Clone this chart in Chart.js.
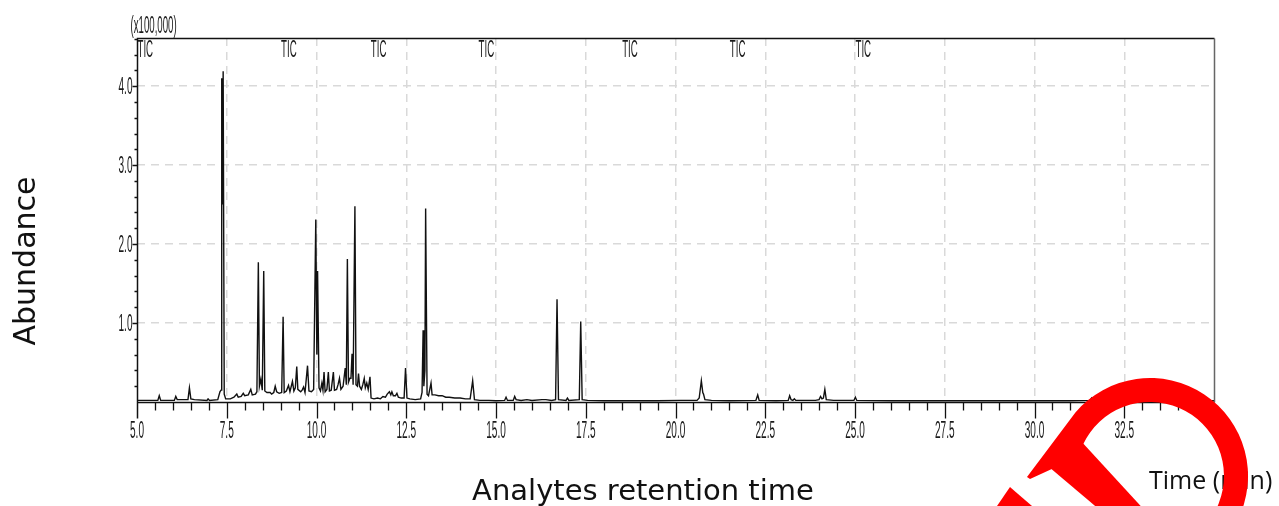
<!DOCTYPE html>
<html>
<head>
<meta charset="utf-8">
<script src="https://cdn.jsdelivr.net/npm/chart.js@4.4.1/dist/chart.umd.min.js"></script>
<style>
  html, body { margin: 0; padding: 0; background: #fff; }
  #wrap { position: relative; width: 1279px; height: 506px; overflow: hidden; }
  #chart { position: absolute; left: 0; top: 0; }
  #mark { position: absolute; left: 0; top: 0; pointer-events: none; }
</style>
</head>
<body>
<div id="wrap">
  <canvas id="chart" width="1279" height="506"></canvas>
  <svg id="mark" width="1279" height="506" viewBox="0 0 1279 506">
    <path fill="#ff0000" d="M1027,477 L1075.4,412.5 A98,98 0 1 1 1116.5,568.1 L1124.7,545.5 A74,74 0 1 0 1082.9,444.7 L1054,468 L1030,479 Z"/>
    <path fill="#ff0000" d="M1080,440 L1160,527 L1120,527 L1049,467 Z"/>
    <path fill="#ff0000" d="M997,506 L1010,487 L1032,506 Z"/>
  </svg>
</div>
<script>
// retention time (min) and abundance (x100,000)
const times = [
  5.00, 5.58, 5.62, 5.66, 6.04, 6.08, 6.12, 6.42, 6.46, 6.50, 6.60, 6.95, 6.98, 7.02,
  7.25, 7.31, 7.34, 7.36, 7.38, 7.40, 7.43, 7.47, 7.60, 7.70, 7.78, 7.82, 7.90, 7.96,
  8.00, 8.10, 8.17, 8.21, 8.30, 8.34, 8.38, 8.41, 8.45, 8.49, 8.53, 8.56, 8.62, 8.71,
  8.75, 8.81, 8.85, 8.89, 8.96, 9.03, 9.07, 9.10, 9.16, 9.22, 9.26, 9.33, 9.37, 9.41,
  9.45, 9.48, 9.56, 9.60, 9.64, 9.68, 9.75, 9.79, 9.86, 9.92, 9.98, 10.01, 10.03, 10.07,
  10.11, 10.15, 10.18, 10.21, 10.24, 10.29, 10.33, 10.36, 10.41, 10.47, 10.50, 10.56,
  10.60, 10.64, 10.68, 10.74, 10.80, 10.83, 10.86, 10.89, 10.93, 10.96, 10.99, 11.02,
  11.07, 11.10, 11.14, 11.17, 11.20, 11.25, 11.29, 11.33, 11.36, 11.40, 11.44, 11.49,
  11.52, 11.60, 11.70, 11.78, 11.85, 11.92, 11.97, 12.03, 12.07, 12.10, 12.14, 12.20,
  12.24, 12.28, 12.36, 12.44, 12.48, 12.52, 12.60, 12.75, 12.90, 12.94, 12.97, 12.99,
  13.02, 13.04, 13.08, 13.12, 13.19, 13.22, 13.30, 13.40, 13.50, 13.60, 13.70, 13.85,
  14.00, 14.15, 14.28, 14.35, 14.40, 14.55, 14.80, 15.00, 15.24, 15.28, 15.32, 15.48,
  15.52, 15.56, 15.70, 15.86, 16.00, 16.28, 16.39, 16.55, 16.66, 16.70, 16.74, 16.95,
  16.99, 17.03, 17.32, 17.36, 17.40, 17.55, 18.00, 18.50, 19.00, 19.50, 20.16, 20.60,
  20.66, 20.72, 20.76, 20.78, 20.82, 21.00, 21.50, 22.24, 22.29, 22.33, 22.80, 23.14,
  23.18, 23.22, 23.27, 23.31, 23.35, 23.90, 24.00, 24.04, 24.08, 24.12, 24.16, 24.20,
  24.40, 24.97, 25.01, 25.05, 26.00, 27.00, 28.00, 29.00, 30.00, 31.00, 31.55, 31.59,
  31.63, 32.50, 33.50, 35.00
];
const abundance = [
  0.02, 0.02, 0.08, 0.02, 0.02, 0.07, 0.03, 0.03, 0.18, 0.04, 0.03, 0.02, 0.04, 0.02,
  0.03, 0.13, 0.15, 4.10, 2.50, 4.19, 0.10, 0.04, 0.04, 0.06, 0.10, 0.06, 0.07, 0.11,
  0.08, 0.09, 0.16, 0.09, 0.10, 0.13, 1.77, 0.20, 0.29, 0.15, 1.66, 0.14, 0.12, 0.12,
  0.10, 0.12, 0.20, 0.13, 0.11, 0.12, 1.08, 0.12, 0.14, 0.21, 0.13, 0.26, 0.14, 0.18,
  0.45, 0.16, 0.13, 0.15, 0.19, 0.12, 0.46, 0.14, 0.13, 0.16, 2.31, 0.60, 1.66, 0.18,
  0.14, 0.24, 0.15, 0.38, 0.13, 0.16, 0.38, 0.14, 0.15, 0.38, 0.15, 0.16,
  0.22, 0.30, 0.16, 0.20, 0.43, 0.22, 1.81, 0.25, 0.30, 0.30, 0.61, 0.22,
  2.48, 0.22, 0.20, 0.36, 0.20, 0.16, 0.22, 0.30, 0.18, 0.24, 0.16, 0.32,
  0.05, 0.04, 0.05, 0.04, 0.07, 0.06, 0.10, 0.13, 0.09, 0.13, 0.08, 0.08,
  0.11, 0.06, 0.05, 0.05, 0.43, 0.05, 0.04, 0.03, 0.04, 0.12, 0.91, 0.20,
  0.40, 2.45, 0.10, 0.08, 0.24, 0.09, 0.09, 0.08, 0.08, 0.06, 0.06, 0.05,
  0.05, 0.04, 0.04, 0.27, 0.03, 0.02, 0.02, 0.015, 0.02, 0.06, 0.02, 0.02,
  0.07, 0.03, 0.02, 0.03, 0.02, 0.03, 0.03, 0.02, 0.03, 1.30, 0.03, 0.02,
  0.05, 0.02, 0.03, 1.02, 0.03, 0.02, 0.015, 0.015, 0.015, 0.015, 0.02, 0.02,
  0.05, 0.27, 0.12, 0.10, 0.03, 0.02, 0.015, 0.02, 0.09, 0.02, 0.015, 0.02,
  0.08, 0.03, 0.02, 0.04, 0.02, 0.02, 0.03, 0.07, 0.04, 0.05, 0.16, 0.03,
  0.02, 0.02, 0.06, 0.02, 0.015, 0.015, 0.015, 0.015, 0.015, 0.015, 0.02, 0.05,
  0.02, 0.015, 0.015, 0.015
];
// segment labels along the top of the trace
const ticTimes = [5.0, 9.0, 11.5, 14.5, 18.5, 21.5, 25.0];
const ticLabel = "TIC";

const narrow = 0.42;

function narrowText(ctx, text, x, y, align) {
  ctx.save();
  ctx.translate(x, y);
  ctx.scale(narrow, 1);
  ctx.textAlign = align;
  ctx.fillText(text, 0, 0);
  ctx.restore();
}

const frame = {
  id: "frame",
  afterDraw(chart) {
    const ctx = chart.ctx;
    const xs = chart.scales.x, ys = chart.scales.y;
    const a = chart.chartArea;
    const l = Math.round(a.left) + 0.5, r = Math.round(a.right) + 0.5;
    const t = Math.round(a.top) + 0.5, b = Math.round(a.bottom) + 0.5;

    ctx.save();
    // box
    ctx.lineWidth = 1.5;
    ctx.strokeStyle = "#111";
    ctx.beginPath();
    ctx.moveTo(l, b + 16); ctx.lineTo(l, t); ctx.lineTo(r, t);
    ctx.moveTo(l, b); ctx.lineTo(r, b);
    ctx.stroke();
    ctx.strokeStyle = "#666";
    ctx.beginPath();
    ctx.moveTo(r, t); ctx.lineTo(r, b);
    ctx.stroke();

    // x ticks every 0.5 min
    ctx.strokeStyle = "#111";
    ctx.lineWidth = 1.3;
    ctx.beginPath();
    for (let i = 1; i < 60; i++) {
      const px = Math.round(xs.getPixelForValue(5 + i * 0.5)) + 0.5;
      ctx.moveTo(px, b);
      ctx.lineTo(px, b + (i % 5 === 0 ? 16 : 8));
    }
    // y ticks every 0.2
    for (let i = 1; i <= 23; i++) {
      const py = Math.round(ys.getPixelForValue(i * 0.2)) + 0.5;
      ctx.moveTo(l, py);
      ctx.lineTo(l - (i % 5 === 0 ? 5 : 3), py);
    }
    ctx.stroke();

    // tick labels
    ctx.fillStyle = "#1a1a1a";
    ctx.font = "24px 'Liberation Sans', Arial, sans-serif";
    ctx.textBaseline = "middle";
    xs.ticks.forEach(tk => {
      if (tk.value >= 35) return;
      narrowText(ctx, tk.value.toFixed(1), xs.getPixelForValue(tk.value), 431, "center");
    });
    ys.ticks.forEach(tk => {
      if (tk.value <= 0 || tk.value % 1 !== 0) return;
      narrowText(ctx, tk.value.toFixed(1), 132.5, ys.getPixelForValue(tk.value) + 1.5, "right");
    });
    ctx.font = "23px 'Liberation Sans', Arial, sans-serif";
    narrowText(ctx, "(x100,000)", 130.5, 26.5, "left");
    ticTimes.forEach(v => {
      narrowText(ctx, ticLabel, xs.getPixelForValue(v) + 0.5, 51, "left");
    });

    // axis titles
    ctx.fillStyle = "#111";
    ctx.textBaseline = "alphabetic";
    ctx.font = "30px 'DejaVu Sans', sans-serif";
    ctx.save();
    ctx.translate(35, 261);
    ctx.rotate(-Math.PI / 2);
    ctx.textAlign = "center";
    ctx.fillText("Abundance", 0, 0);
    ctx.restore();
    ctx.font = "29px 'DejaVu Sans', sans-serif";
    ctx.textAlign = "center";
    ctx.fillText("Analytes retention time", 643, 500);
    ctx.font = "25px 'Open Sans', sans-serif";
    ctx.textAlign = "left";
    ctx.fillText("Time (min)", 1149, 489);
    ctx.restore();
  }
};

new Chart(document.getElementById("chart"), {
  type: "line",
  data: {
    datasets: [{
      data: times.map((t, i) => ({ x: t, y: abundance[i] })),
      borderColor: "#111",
      borderWidth: 1.4,
      pointRadius: 0,
      tension: 0,
      fill: false
    }]
  },
  options: {
    responsive: false,
    animation: false,
    events: [],
    layout: { padding: { top: 38, right: 65, left: 0, bottom: 0 } },
    plugins: { legend: { display: false }, tooltip: { enabled: false } },
    scales: {
      x: {
        type: "linear",
        min: 5,
        max: 35,
        ticks: { stepSize: 2.5, display: false },
        grid: {
          drawTicks: false,
          lineWidth: 1.5,
          color: c => (c.tick && c.tick.value > 5 && c.tick.value < 35) ? "#d9d9d9" : "transparent"
        },
        border: { display: false, dash: [8, 6] },
        afterFit: s => { s.height = 104; }
      },
      y: {
        min: 0,
        max: 4.61,
        ticks: { stepSize: 1, display: false },
        grid: {
          drawTicks: false,
          lineWidth: 1.5,
          color: c => (c.tick && c.tick.value > 0 && c.tick.value % 1 === 0) ? "#d9d9d9" : "transparent"
        },
        border: { display: false, dash: [8, 6] },
        afterFit: s => { s.width = 137; }
      }
    }
  },
  plugins: [frame]
});
</script>
</body>
</html>
